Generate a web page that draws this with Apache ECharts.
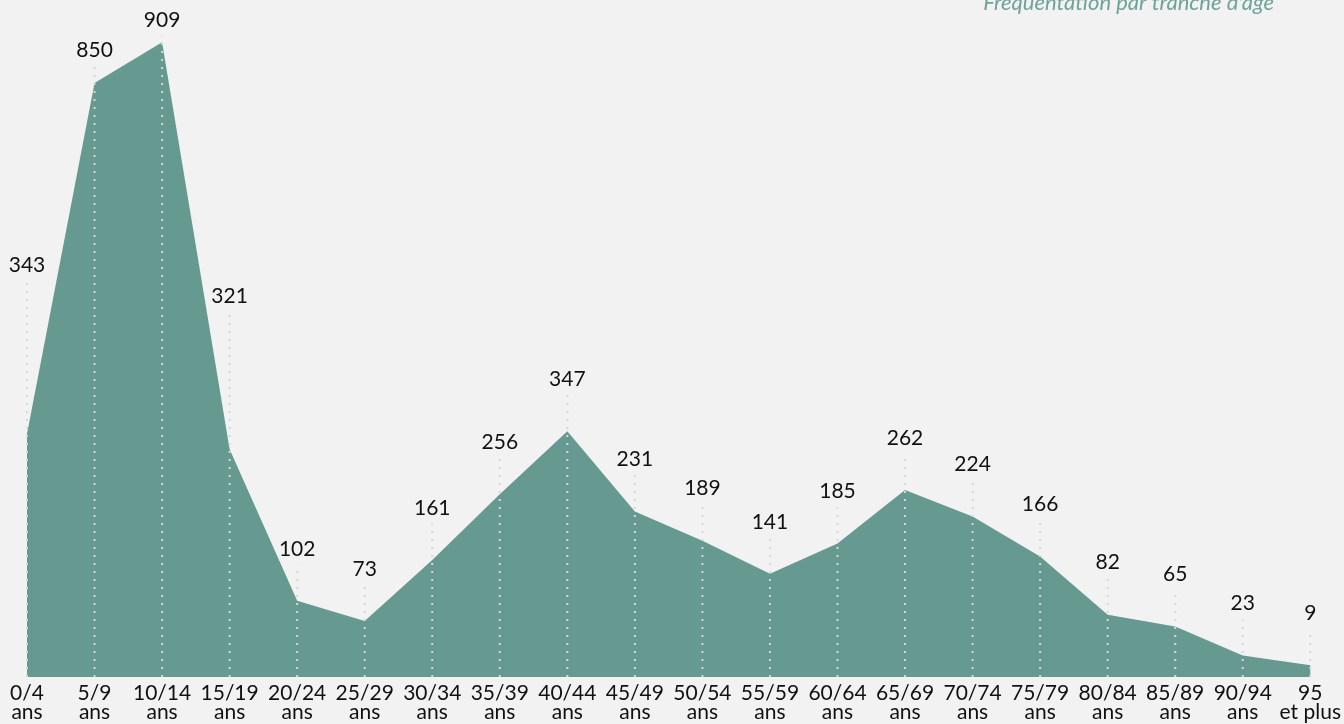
<!DOCTYPE html>
<html>
  <head>
    <meta charset="utf-8" />
    <title>Fréquentation par tranche d'âge</title>
    <script src="https://cdn.jsdelivr.net/npm/echarts@6/dist/echarts.min.js"></script>
    <style>
      html, body { margin: 0; padding: 0; background: #f1f2f1; }
    </style>
  </head>

  <body>
    <div id="main" style="width: 1344px; height: 724px"></div>

    <script>
      // tranches d'âge
      var tranches = [
        "0/4\nans", "5/9\nans", "10/14\nans", "15/19\nans", "20/24\nans",
        "25/29\nans", "30/34\nans", "35/39\nans", "40/44\nans", "45/49\nans",
        "50/54\nans", "55/59\nans", "60/64\nans", "65/69\nans", "70/74\nans",
        "75/79\nans", "80/84\nans", "85/89\nans", "90/94\nans", "95\net plus",
      ];
      // fréquentation
      var valeurs = [
        343, 850, 909, 321, 102, 73, 161, 256, 347, 231,
        189, 141, 185, 262, 224, 166, 82, 65, 23, 9,
      ];

      var yMin = -8;
      var yMax = 970;

      // décalage des étiquettes au-dessus du point (px), quelques exceptions
      function labelLift(i) {
        var special = { 0: 169, 1: 33, 2: 22, 3: 153 };
        return special[i] !== undefined ? special[i] : 52;
      }

      var option = {
        backgroundColor: "#f1f2f1",
        animation: false,
        title: {
          text: "Fréquentation par tranche d'âge",
          right: 65,
          top: -13,
          textStyle: {
            fontFamily: "Lato",
            fontStyle: "italic",
            fontWeight: "normal",
            fontSize: 22,
            color: "#6fa399",
          },
        },
        grid: { left: 27, right: 33, top: 0, bottom: 47 },
        xAxis: {
          type: "category",
          data: tranches,
          boundaryGap: false,
          axisLine: { show: false },
          axisTick: { show: false },
          axisLabel: {
            interval: 0,
            margin: 7,
            fontFamily: "Lato",
            fontSize: 21,
            lineHeight: 19,
            color: "#111",
          },
        },
        yAxis: {
          type: "value",
          min: yMin,
          max: yMax,
          show: false,
          splitLine: { show: false },
        },
        series: [
          {
            type: "line",
            data: valeurs,
            symbol: "none",
            lineStyle: { width: 0 },
            areaStyle: { color: "#66998f", opacity: 1, origin: "start" },
            z: 1,
          },
          {
            type: "custom",
            data: valeurs.map(function (v, i) {
              return [i, v];
            }),
            z: 5,
            renderItem: function (params, api) {
              var i = api.value(0);
              var v = api.value(1);
              var base = api.coord([i, yMin]);
              var pt = api.coord([i, v]);
              var ly = pt[1] - labelLift(i);
              return {
                type: "group",
                children: [
                  {
                    type: "line",
                    shape: { x1: base[0], y1: base[1], x2: base[0], y2: ly + 16 },
                    style: {
                      stroke: "#d6d8d7",
                      lineWidth: 2,
                      lineDash: [2, 6],
                    },
                  },
                  {
                    type: "text",
                    x: base[0],
                    y: ly,
                    style: {
                      text: String(v),
                      align: "center",
                      verticalAlign: "middle",
                      fontFamily: "Lato",
                      fontSize: 21,
                      fill: "#111",
                    },
                  },
                ],
              };
            },
          },
        ],
      };

      var myChart = echarts.init(document.getElementById("main"));
      myChart.setOption(option);
    </script>
  </body>
</html>
